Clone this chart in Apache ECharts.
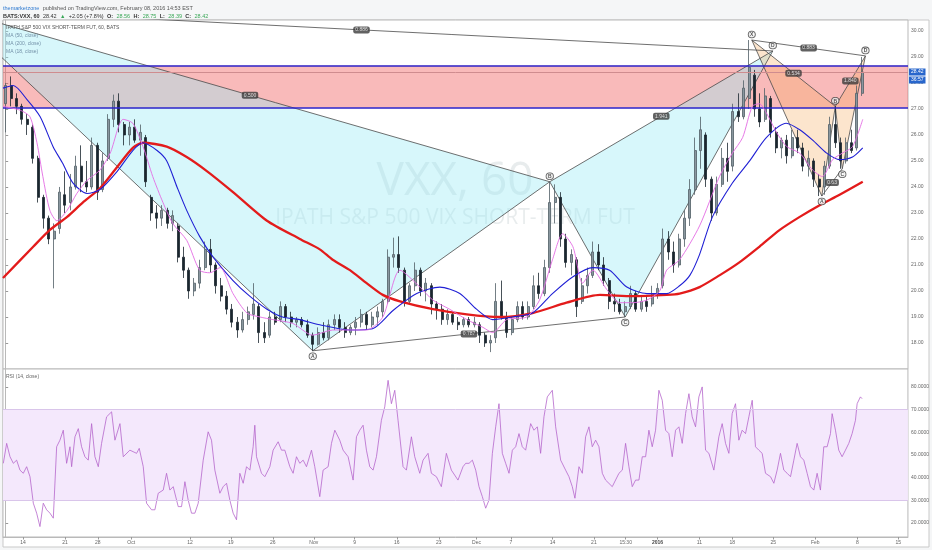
<!DOCTYPE html>
<html>
<head>
<meta charset="utf-8">
<title>BATS:VXX, 60</title>
<script src="https://cdn.jsdelivr.net/npm/echarts@6/dist/echarts.min.js"></script>
<style>
html, body { margin: 0; padding: 0; background: #f5f6f7; }
#chart { width: 932px; height: 550px; }
</style>
</head>
<body>
<div id="chart"></div>
<script>
// candles: [open, close, low, high], one per slot (about half a trading day of 60m bars)
var bars = [
[27.2,27.9,26.1,28.0],[27.9,27.4,27.1,28.25],[27.4,27.1,26.8,27.6],[27.1,26.6,26.4,27.2],[26.6,26.4,26.0,26.8],
[26.3,25.1,24.9,26.4],[25.1,23.6,23.4,25.2],[23.6,22.8,22.4,23.7],[22.8,22.0,21.8,22.9],[22.0,22.3,20.1,22.6],
[22.4,23.8,22.2,24.0],[23.7,23.3,23.0,24.6],[23.4,24.0,23.1,24.5],[24.0,24.8,23.9,25.2],[24.8,24.2,23.8,25.6],
[24.2,24.0,23.8,25.0],[24.0,25.6,23.9,25.9],[25.6,23.8,23.5,25.7],[23.9,25.0,23.8,25.3],[25.1,26.6,25.0,26.8],
[26.6,27.3,26.3,27.55],[27.3,26.4,26.1,27.6],[26.4,26.0,25.6,26.5],[26.0,26.3,25.6,26.5],[26.3,25.8,25.7,26.6],
[25.8,26.1,25.2,26.4],[25.9,24.2,24.0,26.0],[23.6,23.0,22.7,23.7],[23.0,22.8,22.4,23.3],[22.8,23.1,22.5,23.3],
[23.1,22.6,22.4,23.2],[22.6,22.9,22.3,23.1],[22.5,21.3,21.1,22.6],[21.3,20.8,20.5,21.7],[20.8,20.0,19.7,20.9],
[20.0,20.3,19.8,20.5],[20.3,20.9,20.1,21.2],[20.9,21.6,20.8,21.9],[21.6,21.0,20.7,22.0],[21.0,20.2,19.9,21.1],
[20.2,19.8,19.6,20.5],[19.8,19.3,19.1,20.0],[19.3,18.8,18.6,19.5],[18.8,18.5,18.2,19.0],[18.5,18.9,18.4,19.2],
[18.9,19.2,18.7,19.4],[19.1,19.5,18.9,20.3],[19.4,18.4,18.0,19.5],[18.4,18.2,18.0,18.8],[18.3,19.0,18.2,19.2],
[19.0,18.8,18.7,19.2],[18.9,19.4,18.8,19.6],[19.4,19.0,18.8,19.5],[19.0,18.8,18.6,19.2],[18.8,18.9,18.6,19.0],
[18.9,18.7,18.6,19.0],[18.7,18.3,18.2,18.9],[18.3,17.95,17.7,18.4],[17.95,18.4,17.9,18.6],[18.4,18.2,18.1,18.8],
[18.2,18.7,18.1,18.9],[18.7,18.9,18.5,19.1],[18.9,18.6,18.4,19.1],[18.6,18.4,18.2,18.8],[18.4,18.6,18.3,18.7],
[18.6,18.8,18.3,19.0],[18.8,19.1,18.6,19.3],[19.1,18.7,18.5,19.2],[18.7,19.0,18.6,19.2],[19.0,19.2,18.7,19.4],
[19.2,19.6,19.0,19.7],[19.6,21.3,19.5,21.6],[21.3,21.4,20.9,22.05],[21.4,20.9,20.7,22.1],[20.8,19.6,19.4,20.9],
[19.6,20.2,19.5,20.3],[20.2,20.8,20.0,21.1],[20.8,20.0,19.8,20.9],[20.0,20.3,19.6,20.5],[20.2,19.5,19.1,20.3],
[19.5,19.3,18.9,19.6],[19.3,18.9,18.7,19.5],[18.9,19.1,18.7,19.3],[19.1,18.8,18.7,19.2],[18.8,18.7,18.5,19.0],
[18.7,18.9,18.6,19.0],[18.9,18.7,18.6,19.0],[18.7,18.8,18.6,19.0],[18.7,18.3,18.0,18.8],[18.3,18.0,17.85,18.4],
[18.0,18.1,17.65,18.3],[18.2,19.6,18.0,20.3],[19.6,19.0,18.9,20.4],[19.0,18.4,18.2,19.2],[18.4,18.9,18.3,19.0],
[18.9,19.4,18.8,19.6],[19.4,19.0,18.9,19.6],[19.0,19.4,18.9,19.6],[19.4,20.2,19.3,20.6],[20.2,19.9,19.7,20.7],
[19.9,20.9,19.8,21.2],[20.9,23.4,20.7,24.2],[23.4,23.6,22.6,24.1],[23.6,22.0,21.7,23.8],[22.0,21.1,20.9,22.2],
[21.1,21.4,20.6,21.6],[21.2,19.4,19.0,21.3],[19.6,20.2,19.5,20.5],[20.2,20.6,19.9,20.9],[20.6,21.5,20.5,21.9],
[21.5,21.0,20.8,21.8],[21.0,20.4,20.2,21.3],[20.4,19.6,19.3,20.5],[19.6,19.5,19.2,19.9],[19.5,19.2,19.1,19.7],
[19.2,19.4,19.0,19.6],[19.4,19.9,19.3,20.2],[19.9,19.3,19.2,20.0],[19.3,19.6,19.2,19.8],[19.6,19.4,19.2,19.8],
[19.5,19.9,19.4,20.2],[19.9,20.1,19.7,20.3],[20.2,22.0,20.1,22.4],[22.0,21.5,21.2,22.3],[21.5,21.0,20.7,21.9],
[21.0,22.0,20.9,22.2],[22.0,22.8,21.7,23.1],[22.8,23.9,22.5,24.3],[23.9,25.4,23.7,25.9],[25.4,26.2,24.7,26.7],
[26.0,24.3,24.0,26.1],[24.3,23.0,22.7,24.4],[23.0,24.1,22.9,24.4],[24.1,25.1,24.0,25.5],[25.1,24.6,24.2,25.7],
[24.8,26.9,24.6,27.2],[26.9,26.7,26.5,27.6],[26.7,27.8,26.6,28.1],[27.4,28.6,27.0,29.65],[28.3,27.0,26.7,28.5],
[27.0,26.5,26.3,27.6],[26.6,27.5,26.5,27.8],[27.4,26.1,25.9,27.5],[26.1,25.5,25.3,26.3],[25.5,25.8,25.1,25.9],
[25.8,25.2,24.9,26.0],[25.2,25.9,25.1,26.2],[25.9,25.5,25.3,26.2],[25.5,24.8,24.6,25.7],[24.8,25.1,24.4,25.4],
[25.0,24.3,24.0,25.1],[24.3,24.0,23.65,24.5],[24.0,24.8,23.7,25.0],[24.8,26.4,24.7,26.7],[26.4,25.7,25.5,27.1],
[25.7,25.0,24.7,25.9],[25.0,25.7,24.9,25.9],[25.7,25.4,25.3,26.2],[25.5,27.6,25.4,27.9],[27.6,28.42,27.5,29.0]
];

// moving averages, [slot, value]
var ma200 = [[-0.5,20.5],[5.1,21.7],[8.2,22.35],[11.4,22.85],[14.3,23.4],[17.5,23.95],[20.7,24.77],[23.6,25.5],
  [25.5,25.7],[29.9,25.55],[33.6,25.15],[37.4,24.6],[42.2,23.8],[48.5,22.7],[54.6,22.0],[58.3,21.6],[60.7,21.2],
  [63.9,20.8],[67.0,20.3],[70.0,19.85],[73.2,19.6],[79.3,19.3],[85.6,19.1],[91.7,19.0],[97.8,19.15],[104.1,19.55],
  [110.3,19.85],[116.4,19.8],[122.7,19.85],[125.1,19.9],[128.8,20.15],[132.5,20.6],[136.2,21.1],[139.9,21.7],
  [143.7,22.35],[147.4,22.85],[151.1,23.3],[154.8,23.7],[159.1,24.2]];
var ma50 = [[-0.5,27.8],[1.4,27.9],[4.0,27.35],[6.4,26.7],[8.8,25.55],[10.6,24.9],[12.5,24.15],[15.1,23.75],
  [17.5,23.9],[20.7,24.6],[23.6,25.4],[25.5,25.7],[28.1,25.4],[29.9,25.0],[31.8,24.0],[33.6,23.1],[36.0,22.1],
  [38.5,21.3],[42.2,20.4],[45.3,19.8],[48.5,19.3],[51.4,19.0],[54.6,18.9],[58.3,18.7],[63.9,18.5],[68.1,18.55],
  [71.9,19.25],[76.3,19.9],[80.6,20.15],[84.3,19.9],[87.4,19.3],[90.4,18.9],[94.1,19.0],[97.8,19.15],[101.5,19.9],
  [105.3,20.55],[109.0,20.9],[112.1,20.8],[115.3,20.15],[119.0,19.9],[122.7,19.9],[125.1,20.2],[127.0,20.6],
  [128.8,21.4],[131.2,22.85],[134.9,24.15],[138.1,25.0],[141.2,25.9],[144.9,26.45],[147.4,26.2],[149.8,25.8],
  [152.4,25.3],[154.8,25.05],[157.2,25.15],[159.1,25.5]];
var ma18 = [[-0.5,27.1],[2.7,26.95],[4.5,26.7],[5.8,25.7],[6.9,24.4],[8.2,23.1],[9.5,22.7],[11.4,23.1],[13.2,23.75],
  [15.1,24.25],[17.5,24.65],[19.4,25.3],[21.8,26.6],[23.6,26.45],[25.5,25.55],[27.3,24.4],[29.2,23.4],[31.0,22.6],
  [33.6,21.95],[36.0,20.8],[37.9,20.7],[39.8,20.9],[42.2,19.9],[44.8,19.15],[47.2,19.0],[49.6,18.9],[53.3,18.75],
  [57.0,18.3],[60.7,18.5],[67.0,18.5],[70.0,19.0],[73.2,20.8],[76.9,20.15],[79.3,19.65],[82.4,19.3],[85.6,18.9],
  [88.6,18.6],[90.4,18.4],[93.0,18.9],[96.7,19.0],[99.1,19.65],[101.5,21.2],[103.4,22.2],[105.3,21.7],[107.1,20.3],
  [109.0,20.8],[111.6,20.05],[114.0,19.55],[116.4,19.55],[119.0,19.65],[121.4,20.0],[122.7,20.8],[125.1,21.2],
  [128.8,22.5],[132.5,24.4],[134.9,25.3],[136.8,25.9],[138.6,27.1],[139.9,27.2],[141.2,26.85],[143.1,26.1],
  [145.0,25.55],[147.4,25.3],[149.8,24.65],[151.6,24.4],[153.5,25.05],[155.3,25.3],[157.2,25.55],[159.1,26.6]];

// RSI (14, close), [slot, value]
var rsi = [[-0.44,46.3],[0.18,55.1],[0.80,49.2],[1.42,46.3],[2.03,47.7],[2.65,43.3],[3.27,41.9],[3.89,44.8],
  [4.51,40.4],[5.13,28.7],[5.75,24.3],[6.36,18.4],[6.98,28.7],[7.60,25.8],[8.22,24.3],[8.84,22.1],[9.46,53.6],
  [10.07,56.5],[10.69,60.9],[11.31,46.3],[11.93,53.6],[12.24,44.8],[12.86,58.0],[13.48,61.6],[14.09,53.6],
  [14.71,49.2],[15.33,47.7],[15.95,63.8],[16.57,49.2],[17.19,44.8],[17.80,55.1],[18.73,66.8],[19.66,69.0],
  [20.28,56.5],[21.21,63.8],[21.83,49.2],[23.06,52.1],[24.30,50.7],[24.79,52.9],[25.54,44.8],[26.15,28.7],
  [27.08,25.8],[27.70,25.8],[28.32,33.1],[29.25,34.5],[29.86,41.9],[30.48,34.5],[31.10,36.0],[32.03,27.2],
  [32.65,27.2],[33.27,38.2],[33.88,30.1],[34.50,24.3],[35.12,24.3],[35.74,28.7],[36.67,47.7],[37.59,60.2],
  [38.21,56.5],[38.83,43.3],[39.76,33.1],[40.38,36.0],[41.00,37.5],[41.61,30.1],[42.23,24.3],[42.85,21.4],
  [43.47,41.9],[44.09,37.5],[44.71,44.8],[45.33,43.3],[45.94,53.6],[46.25,63.1],[46.56,49.2],[47.49,41.9],
  [48.11,40.4],[49.04,44.8],[49.65,52.1],[50.58,55.8],[51.20,52.1],[51.82,52.1],[52.75,44.8],[53.36,41.9],
  [53.98,49.2],[54.60,46.3],[55.22,47.7],[55.84,44.8],[56.77,52.1],[57.38,44.8],[58.31,31.6],[58.93,43.3],
  [59.86,44.8],[60.48,55.1],[61.10,60.9],[62.02,56.5],[62.64,52.1],[63.57,49.2],[64.50,38.9],[65.12,58.0],
  [65.73,60.9],[66.35,63.1],[66.97,52.1],[67.59,44.8],[68.21,43.3],[68.83,49.2],[69.75,65.3],[70.37,71.2],
  [70.99,82.9],[71.61,72.6],[72.23,78.5],[72.84,65.3],[73.77,44.8],[74.39,43.3],[75.32,58.0],[75.94,49.2],
  [76.87,41.9],[77.48,47.7],[78.41,50.7],[79.03,41.9],[79.96,40.4],[80.88,36.0],[81.81,50.7],[82.74,43.3],
  [83.97,38.9],[84.90,44.8],[85.40,46.3],[86.02,46.3],[86.64,47.7],[87.26,43.3],[87.87,36.0],[88.49,31.6],
  [89.11,26.5],[89.73,30.1],[90.35,50.7],[90.97,62.4],[91.58,72.6],[92.20,50.7],[92.82,46.3],[93.44,41.9],
  [94.06,52.1],[94.68,53.6],[95.29,59.4],[95.91,53.6],[96.53,52.1],[97.46,63.8],[98.08,60.9],[98.70,62.4],
  [99.31,50.7],[99.93,66.8],[100.55,75.6],[101.48,78.5],[102.10,62.4],[103.03,47.7],[103.95,43.3],[104.57,40.4],
  [105.19,36.0],[105.68,30.9],[106.43,44.8],[107.05,41.9],[107.66,58.0],[108.28,62.4],[108.90,53.6],[109.52,56.5],
  [110.14,53.6],[110.76,41.9],[111.37,38.9],[112.61,36.0],[113.85,41.9],[114.47,43.3],[115.08,55.1],[115.70,44.8],
  [116.32,36.0],[116.94,38.9],[117.56,38.9],[118.18,49.2],[118.80,49.2],[119.41,60.9],[120.03,53.6],[120.65,60.9],
  [121.27,78.5],[121.89,74.1],[122.51,60.9],[123.12,59.4],[123.74,49.2],[124.36,60.9],[124.98,62.4],[125.60,55.1],
  [126.22,68.2],[126.84,77.0],[127.45,66.8],[128.07,62.4],[128.69,75.6],[129.31,80.0],[129.93,52.1],[130.55,50.7],
  [131.47,43.3],[132.40,58.0],[133.02,63.8],[133.64,55.1],[134.26,50.7],[134.87,68.2],[135.49,72.6],[136.11,56.5],
  [136.73,60.9],[137.35,59.4],[137.97,66.8],[138.59,74.1],[139.20,53.6],[139.82,52.1],[140.44,50.7],[141.06,41.9],
  [141.99,40.4],[142.61,37.5],[143.22,43.3],[143.84,50.7],[144.46,43.3],[145.08,41.9],[145.70,40.4],[146.32,47.7],
  [146.93,55.1],[147.55,49.2],[148.17,47.7],[148.79,41.9],[149.41,36.0],[150.03,34.5],[150.64,41.9],[151.26,34.5],
  [151.88,53.6],[152.50,53.6],[153.12,59.4],[153.43,68.2],[154.05,60.9],[154.66,52.1],[155.28,49.2],[155.90,52.1],
  [156.52,55.1],[157.14,59.4],[157.76,65.3],[158.07,72.6],[158.68,75.6],[158.99,74.8]];

// harmonic patterns: vertices X, A, B, C, D
var bigX = [-10.3, 57, 101, 115, 142.4];
var bigY = [30.85, 17.7, 24.2, 19.0, 29.23];
var bigRatios = ['0.500', '0.787', '1.941', '0.886'];   // XB, AC, BD, XD
var smallX = [138.5, 151.5, 154, 155.3, 159.6];
var smallY = [29.65, 23.65, 27.1, 24.7, 29.04];
var smallRatios = ['0.534', '0.63', '1.840', '0.883'];
var pointNames = ['X', 'A', 'B', 'C', 'D'];
var pointSide = ['top', 'bottom', 'top', 'bottom', 'top'];

var zone = [27.05, 28.66];
var lastPrice = 28.42;
var barTimer = '36:57';
var rsiBand = [30, 70];

var priceTicks = [18, 19, 20, 21, 22, 23, 24, 25, 26, 27, 28, 29, 30];
var rsiTicks = [20, 30, 40, 50, 60, 70, 80];
var timePos = [3.2, 11.0, 17.1, 23.3, 34.2, 41.8, 49.6, 57.2, 64.8, 72.6, 80.4, 87.4, 93.8, 101.5,
  109.2, 115.1, 121.0, 128.8, 134.9, 142.5, 150.3, 158.1, 165.7];
var timeText = ['14', '21', '28', 'Oct', '12', '19', '26', 'Nov', '9', '16', '23', 'Dec', '7', '14',
  '21', '15:30', '2016', '11', '18', '25', 'Feb', '8', '15'];

var FONT = 'Liberation Sans, Arial, sans-serif';
var X_MIN = -0.5, X_MAX = 167.5;

var chart = echarts.init(document.getElementById('chart'));

var edges = [[0,1],[1,2],[2,3],[3,4],[0,2],[1,3],[2,4],[0,4]];
var ratioEdges = [[0,2],[1,3],[2,4],[0,4]];

function patternSeries(px, py, fill, ratios) {
	var out = [];
	out.push({
		type: 'custom',
		xAxisIndex: 0, yAxisIndex: 0,
		z: 1, silent: true, clip: true,
		data: [[px[0],py[0],px[1],py[1],px[2],py[2]], [px[2],py[2],px[3],py[3],px[4],py[4]]],
		renderItem: function(params, api) {
			var pts = [];
			for (var k = 0; k < 3; k++) {
				pts.push(api.coord([api.value(2 * k), api.value(2 * k + 1)]));
			}
			var cs = params.coordSys;
			return {
				type: 'polygon',
				shape: { points: pts },
				style: { fill: fill },
				clipPath: { type: 'rect', shape: { x: cs.x, y: cs.y, width: cs.width, height: cs.height } }
			};
		}
	});
	edges.forEach(function(e) {
		out.push({
			type: 'line',
			xAxisIndex: 0, yAxisIndex: 0,
			data: [[px[e[0]], py[e[0]]], [px[e[1]], py[e[1]]]],
			symbol: 'none', silent: true, z: 3, clip: true,
			lineStyle: { color: '#4a4a4a', width: 0.8 }
		});
	});
	out.push({
		type: 'scatter',
		xAxisIndex: 0, yAxisIndex: 0,
		z: 6, silent: true, symbolSize: 1,
		itemStyle: { color: 'rgba(0,0,0,0)' },
		data: ratioEdges.map(function(e, k) {
			return [(px[e[0]] + px[e[1]]) / 2, (py[e[0]] + py[e[1]]) / 2, ratios[k]];
		}),
		label: {
			show: true, position: 'inside',
			formatter: function(p) { return p.value[2]; },
			color: '#fff', backgroundColor: '#3b3b3b', borderRadius: 2,
			padding: [1, 2], fontSize: 5, fontFamily: FONT
		}
	});
	out.push({
		type: 'scatter',
		xAxisIndex: 0, yAxisIndex: 0,
		z: 6, silent: true, symbolSize: 1, clip: true,
		itemStyle: { color: 'rgba(0,0,0,0)' },
		data: px.map(function(x, k) {
			return { value: [x, py[k]], name: pointNames[k], label: { position: pointSide[k] } };
		}),
		label: {
			show: true, distance: 2,
			formatter: function(p) { return p.name; },
			color: '#222', backgroundColor: '#fff', borderColor: '#333', borderWidth: 0.8,
			borderRadius: 4, padding: [1, 1.5, 0, 1.5], fontSize: 5, fontWeight: 'bold', fontFamily: FONT
		}
	});
	return out;
}

function maSeries(pts, color, width) {
	return {
		type: 'line', xAxisIndex: 0, yAxisIndex: 0,
		data: pts, symbol: 'none', smooth: 0.25, z: 5, silent: true,
		lineStyle: { color: color, width: width }
	};
}

var series = [];

// resistance zone
series.push({
	type: 'line', xAxisIndex: 0, yAxisIndex: 0, z: 1, silent: true,
	data: [[X_MIN, zone[0]]], symbol: 'none', lineStyle: { width: 0 },
	markArea: { silent: true, itemStyle: { color: 'rgba(240,90,90,0.42)' },
		data: [[{ yAxis: zone[0] }, { yAxis: zone[1] }]] },
	markLine: { silent: true, symbol: 'none', label: { show: false },
		lineStyle: { color: '#2b22c9', width: 1.5, type: 'solid' },
		data: [{ yAxis: zone[0] }, { yAxis: zone[1] }] }
});

series = series.concat(patternSeries(bigX, bigY, 'rgba(150,235,245,0.38)', bigRatios));
series = series.concat(patternSeries(smallX, smallY, 'rgba(245,170,90,0.3)', smallRatios));

series.push({
	type: 'candlestick', xAxisIndex: 0, yAxisIndex: 0, z: 4,
	data: bars.map(function(b, i) { return [i, b[0], b[1], b[2], b[3]]; }),
	barWidth: 2.5,
	itemStyle: { color: '#8a979f', color0: '#1b262e', borderColor: '#505e66', borderColor0: '#1b262e', borderWidth: 0.8 },
	markLine: {
		silent: true, symbol: 'none',
		lineStyle: { color: '#cf8c8f', width: 1, type: 'solid' },
		data: [{ yAxis: lastPrice }],
		label: {
			show: true, position: 'end', distance: 1, offset: [0, 4],
			formatter: '{p|' + lastPrice.toFixed(2) + '}\n{t|' + barTimer + '}',
			rich: {
				p: { color: '#fff', backgroundColor: '#2866cc', padding: [1, 2], fontSize: 5, fontFamily: FONT, lineHeight: 8 },
				t: { color: '#fff', backgroundColor: '#2866cc', padding: [1, 2], fontSize: 5, fontFamily: FONT, lineHeight: 8 }
			}
		}
	}
});

series.push(maSeries(ma200, '#e31b1b', 2.3));
series.push(maSeries(ma50, '#1f1fd4', 1.1));
series.push(maSeries(ma18, '#e36be3', 0.9));

// RSI pane
series.push({
	type: 'line', xAxisIndex: 1, yAxisIndex: 1, z: 1, silent: true,
	data: [[X_MIN, 50]], symbol: 'none', lineStyle: { width: 0 },
	markArea: { silent: true, itemStyle: { color: '#f4e8fc' },
		data: [[{ yAxis: rsiBand[0] }, { yAxis: rsiBand[1] }]] },
	markLine: { silent: true, symbol: 'none', label: { show: false },
		lineStyle: { color: '#d9c5ea', width: 1, type: 'solid' },
		data: [{ yAxis: rsiBand[0] }, { yAxis: rsiBand[1] }] }
});
series.push({
	type: 'line', xAxisIndex: 1, yAxisIndex: 1, z: 3, silent: true,
	data: rsi, symbol: 'none',
	lineStyle: { color: '#b566cc', width: 0.8 }
});

function nearestTime(v) {
	var best = 0;
	for (var k = 1; k < timePos.length; k++) {
		if (Math.abs(timePos[k] - v) < Math.abs(timePos[best] - v)) best = k;
	}
	return best;
}

var axisText = { fontSize: 5, color: '#666', fontFamily: FONT };

var option = {
	animation: false,
	backgroundColor: 'transparent',
	grid: [
		{ left: 3, top: 20, width: 905, height: 349, show: true, backgroundColor: '#fff', borderColor: '#b9b9b9', borderWidth: 1 },
		{ left: 3, top: 369, width: 905, height: 168, show: true, backgroundColor: '#fff', borderColor: '#b9b9b9', borderWidth: 1 }
	],
	xAxis: [
		{ gridIndex: 0, type: 'value', min: X_MIN, max: X_MAX, show: false },
		{
			gridIndex: 1, type: 'value', min: X_MIN, max: X_MAX,
			splitLine: { show: false },
			axisLine: { show: true, lineStyle: { color: '#b9b9b9' } },
			axisTick: { show: true, length: 2.5, lineStyle: { color: '#999' }, customValues: timePos },
			axisLabel: {
				customValues: timePos, margin: 3,
				fontSize: 5, color: '#666', fontFamily: FONT,
				formatter: function(v) {
					var k = nearestTime(v);
					return timeText[k] === '2016' ? '{b|2016}' : timeText[k];
				},
				rich: { b: { fontWeight: 'bold', fontSize: 5, color: '#444', fontFamily: FONT } }
			}
		}
	],
	yAxis: [
		{
			gridIndex: 0, type: 'value', position: 'right', min: 17, max: 30.42,
			splitLine: { show: false },
			axisLine: { show: true, lineStyle: { color: '#b9b9b9' } },
			axisTick: { show: true, length: 2.5, lineStyle: { color: '#999' }, customValues: priceTicks },
			axisLabel: Object.assign({ customValues: priceTicks, margin: 3,
				formatter: function(v) { return v.toFixed(2); } }, axisText)
		},
		{
			gridIndex: 1, type: 'value', position: 'right', min: 13.8, max: 87.9,
			splitLine: { show: false },
			axisLine: { show: true, lineStyle: { color: '#b9b9b9' } },
			axisTick: { show: true, length: 2.5, lineStyle: { color: '#999' }, customValues: rsiTicks },
			axisLabel: Object.assign({ customValues: rsiTicks, margin: 3,
				formatter: function(v) { return v.toFixed(4); } }, axisText)
		}
	],
	graphic: [
		{ type: 'rect', z: -10, silent: true, shape: { x: 3, y: 20, width: 926, height: 527 },
			style: { fill: '#fff', stroke: '#c9c9c9', lineWidth: 1 } },
		{ type: 'text', x: 3, y: 2, silent: true,
			style: { text: '{u|themarketzone} {n|published on TradingView.com, February 08, 2016 14:53 EST}',
				rich: { u: { fill: '#2e7ad1', fontSize: 5.5, fontFamily: FONT },
					n: { fill: '#555', fontSize: 5.5, fontFamily: FONT } } } },
		{ type: 'text', x: 3, y: 10, silent: true,
			style: { text: '{k|BATS:VXX, 60} {n|28.42} {g|▲} {n|+2.05 (+7.8%)} {k|O:} {g|28.56} {k|H:} {g|28.75} {k|L:} {g|28.39} {k|C:} {g|28.42}',
				rich: { k: { fill: '#333', fontWeight: 'bold', fontSize: 5.5, fontFamily: FONT },
					n: { fill: '#333', fontSize: 5.5, fontFamily: FONT },
					g: { fill: '#3aa757', fontSize: 5.5, fontFamily: FONT } } } },
		{ type: 'text', x: 455, y: 182, z: 1, silent: true,
			style: { text: 'VXX, 60', fontSize: 46, fontFamily: 'Open Sans', fill: 'rgba(120,140,150,0.17)',
				align: 'center', verticalAlign: 'middle', textAlign: 'center', textVerticalAlign: 'middle' } },
		{ type: 'text', x: 455, y: 218, z: 1, silent: true,
			style: { text: 'IPATH S&P 500 VIX SHORT-TERM FUT', fontSize: 21, fontFamily: 'Open Sans', fill: 'rgba(120,140,150,0.17)',
				align: 'center', verticalAlign: 'middle', textAlign: 'center', textVerticalAlign: 'middle' } },
		{ type: 'text', x: 6, y: 25, z: 7, silent: true,
			style: { text: 'IPATH S&P 500 VIX SHORT-TERM FUT, 60, BATS', fill: '#555', fontSize: 5, fontFamily: FONT } },
		{ type: 'text', x: 6, y: 33, z: 7, silent: true,
			style: { text: 'MA (50, close)', fill: '#7391a8', fontSize: 5, fontFamily: FONT } },
		{ type: 'text', x: 6, y: 41, z: 7, silent: true,
			style: { text: 'MA (200, close)', fill: '#7391a8', fontSize: 5, fontFamily: FONT } },
		{ type: 'text', x: 6, y: 49, z: 7, silent: true,
			style: { text: 'MA (18, close)', fill: '#7391a8', fontSize: 5, fontFamily: FONT } },
		{ type: 'text', x: 6, y: 374, z: 7, silent: true,
			style: { text: 'RSI (14, close)', fill: '#666', fontSize: 5, fontFamily: FONT } }
	],
	series: series
};

chart.setOption(option);
</script>
</body>
</html>
